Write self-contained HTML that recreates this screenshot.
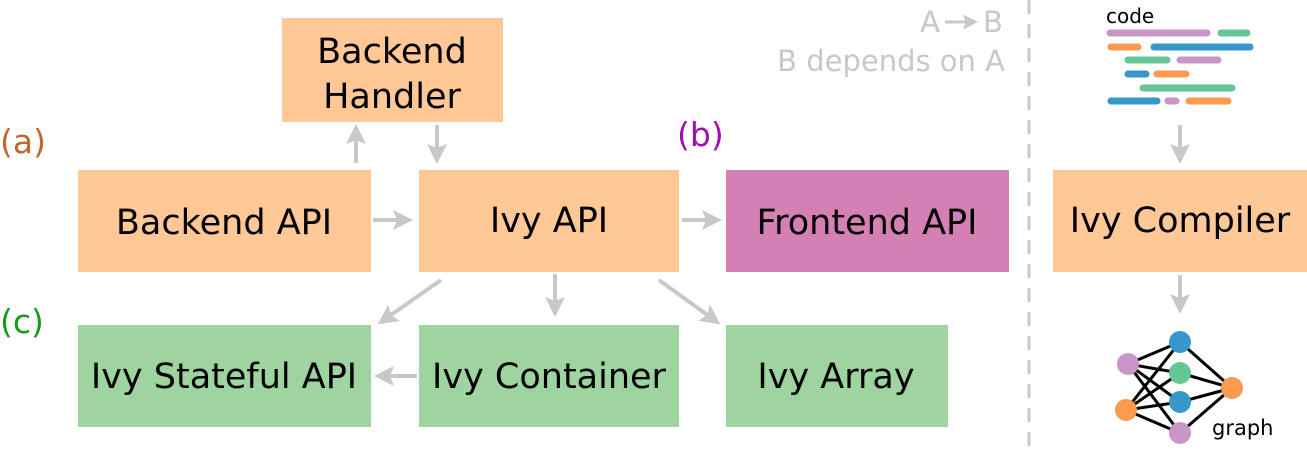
<!DOCTYPE html>
<html><head><style>body{margin:0;background:#fff}svg{display:block}</style></head><body>
<svg width="1307" height="450" xmlns="http://www.w3.org/2000/svg" font-family="DejaVu Sans, Liberation Sans, sans-serif">
<defs>
<marker id="ah" markerWidth="5" markerHeight="5" refX="4" refY="2.5" orient="auto" markerUnits="strokeWidth"><path d="M0,0 L5,2.5 L0,5 L1,2.5 z" fill="#c8c8c8"/></marker>
</defs>
<g font-size="35" text-anchor="middle" fill="#000">
<rect x="282" y="18" width="221" height="104" fill="#ffc896"/>
<text x="392" y="63">Backend</text><text x="392" y="108">Handler</text>
<rect x="78" y="170" width="293" height="102" fill="#ffc896"/><text x="224" y="234">Backend API</text>
<rect x="419" y="170" width="260" height="102" fill="#ffc896"/><text x="549" y="232">Ivy API</text>
<rect x="726" y="170" width="283" height="102" fill="#d580b4"/><text x="867" y="234">Frontend API</text>
<rect x="1053" y="170" width="254" height="102" fill="#ffc896"/><text x="1180" y="232">Ivy Compiler</text>
<rect x="78" y="325" width="293" height="102" fill="#9dd49f"/><text x="224" y="388">Ivy Stateful API</text>
<rect x="419" y="325" width="260" height="102" fill="#9dd49f"/><text x="549" y="388">Ivy Container</text>
<rect x="726" y="325" width="222" height="102" fill="#9dd49f"/><text x="836" y="388">Ivy Array</text>
</g>
<g stroke="#c8c8c8" stroke-width="4" marker-end="url(#ah)" fill="none">
<line x1="356" y1="163" x2="356" y2="128"/>
<line x1="437" y1="125" x2="437" y2="160"/>
<line x1="373" y1="220" x2="409" y2="220"/>
<line x1="682" y1="220" x2="718" y2="220"/>
<line x1="441" y1="280" x2="381" y2="322"/>
<line x1="555" y1="274" x2="555" y2="313"/>
<line x1="659" y1="280" x2="717" y2="322"/>
<line x1="417" y1="376" x2="378" y2="376"/>
<line x1="1180" y1="125" x2="1180" y2="160"/>
<line x1="1180" y1="275" x2="1180" y2="310"/>
<line x1="945" y1="22" x2="975" y2="22" stroke-width="3"/>
</g>
<line x1="1029" y1="0" x2="1029" y2="450" stroke="#c8c8c8" stroke-width="3" stroke-dasharray="14,10"/>
<g font-size="29" fill="#c8c8c8">
<text x="940" y="32" text-anchor="end">A</text><text x="983" y="32">B</text>
<text x="1005" y="71" text-anchor="end">B depends on A</text>
</g>
<text x="0" y="153" font-size="33" fill="#c0672f">(a)</text>
<text x="677" y="146" font-size="33" fill="#a010b0">(b)</text>
<text x="0" y="333" font-size="33" fill="#1a9a1a">(c)</text>
<text x="1106" y="23" font-size="20" fill="#000">code</text>
<g stroke-width="7" stroke-linecap="round">
<line x1="1110" y1="33" x2="1207" y2="33" stroke="#c994c7"/><line x1="1221" y1="33" x2="1247" y2="33" stroke="#66c795"/>
<line x1="1111" y1="47" x2="1138" y2="47" stroke="#fd9a4e"/><line x1="1154" y1="47" x2="1250" y2="47" stroke="#3597ca"/>
<line x1="1128" y1="60" x2="1167" y2="60" stroke="#66c795"/><line x1="1180" y1="60" x2="1218" y2="60" stroke="#c994c7"/>
<line x1="1128" y1="74" x2="1146" y2="74" stroke="#3597ca"/><line x1="1157" y1="74" x2="1186" y2="74" stroke="#fd9a4e"/>
<line x1="1143" y1="88" x2="1232" y2="88" stroke="#66c795"/>
<line x1="1111" y1="101" x2="1157" y2="101" stroke="#3597ca"/><line x1="1168" y1="101" x2="1176" y2="101" stroke="#c994c7"/><line x1="1189" y1="101" x2="1228" y2="101" stroke="#fd9a4e"/>
</g>
<g stroke="#000" stroke-width="3">
<line x1="1128" y1="364" x2="1180" y2="342"/><line x1="1128" y1="364" x2="1180" y2="373"/><line x1="1128" y1="364" x2="1180" y2="402"/><line x1="1128" y1="364" x2="1180" y2="433"/>
<line x1="1126" y1="410" x2="1180" y2="342"/><line x1="1126" y1="410" x2="1180" y2="373"/><line x1="1126" y1="410" x2="1180" y2="402"/><line x1="1126" y1="410" x2="1180" y2="433"/>
<line x1="1232" y1="388" x2="1180" y2="342"/><line x1="1232" y1="388" x2="1180" y2="373"/><line x1="1232" y1="388" x2="1180" y2="402"/><line x1="1232" y1="388" x2="1180" y2="433"/>
</g>
<circle cx="1128" cy="364" r="11" fill="#c994c7"/><circle cx="1126" cy="410" r="11" fill="#fd9a4e"/>
<circle cx="1180" cy="342" r="11" fill="#3597ca"/><circle cx="1180" cy="373" r="11" fill="#66c795"/>
<circle cx="1180" cy="402" r="11" fill="#3597ca"/><circle cx="1180" cy="433" r="11" fill="#c994c7"/>
<circle cx="1232" cy="388" r="11" fill="#fd9a4e"/>
<text x="1212" y="435" font-size="21" fill="#000">graph</text>
</svg>
</body></html>
